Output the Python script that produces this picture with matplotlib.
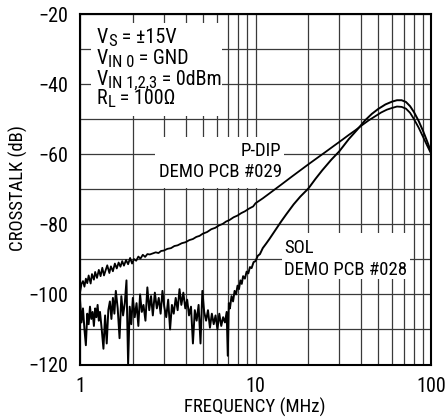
import numpy as np
import matplotlib
matplotlib.use('Agg')
import matplotlib.pyplot as plt
from matplotlib.patches import Rectangle
from matplotlib.ticker import LogLocator, NullFormatter

plt.rcParams['font.family'] = ['Roboto Condensed', 'Liberation Sans', 'DejaVu Sans']
plt.rcParams['font.size'] = 13.5

# P-DIP, demo pcb #029  (freq MHz, crosstalk dB)
pdip_low = [(1.00, -99.5), (1.02, -97.0), (1.04, -96.2), (1.06, -97.8), (1.08, -95.5),
            (1.10, -96.8), (1.12, -94.6), (1.15, -96.9), (1.17, -94.2), (1.20, -95.8),
            (1.22, -93.6), (1.25, -95.3), (1.28, -93.0), (1.31, -94.8), (1.34, -92.4),
            (1.37, -94.6), (1.40, -93.1), (1.43, -91.7), (1.47, -93.9), (1.50, -92.0),
            (1.54, -93.4), (1.58, -91.2), (1.62, -92.6), (1.66, -90.9), (1.70, -92.1),
            (1.74, -90.5), (1.78, -91.8), (1.83, -90.2), (1.88, -91.4), (1.93, -89.6),
            (1.98, -91.2), (2.03, -89.9), (2.09, -90.4), (2.15, -89.2), (2.21, -89.8),
            (2.28, -88.7), (2.35, -89.3), (2.42, -88.5), (2.50, -88.6)]
pdip_mid = [(2.6, -88.3), (2.7, -88.0), (2.8, -88.2), (2.9, -87.6), (3.0, -87.5),
            (3.15, -87.0), (3.3, -86.8), (3.45, -86.2), (3.6, -86.0), (3.8, -85.4),
            (4.0, -85.1), (4.2, -84.5), (4.4, -84.2), (4.6, -83.6), (4.8, -83.3),
            (5.0, -82.7), (5.3, -82.2), (5.6, -81.4), (5.9, -81.0), (6.2, -80.3),
            (6.5, -79.9), (6.8, -79.2), (7.1, -78.8), (7.5, -78.0), (7.9, -77.5),
            (8.3, -76.8), (8.7, -76.3), (9.2, -75.5), (9.7, -74.9)]
pdip_high = [(10, -74.0), (11, -72.6), (12, -71.2), (14, -68.7), (16, -66.5),
             (18, -64.6), (20, -62.9), (22, -61.4), (25, -59.4), (28, -57.6),
             (31, -56.0), (34, -54.5), (37, -53.2), (40, -51.9), (44, -50.4),
             (48, -49.2), (52, -48.1), (56, -47.3), (60, -46.8), (64, -46.4),
             (68, -46.5), (72, -47.0), (76, -48.2), (80, -50.0), (85, -52.4),
             (90, -55.0), (95, -57.5), (100, -59.8)]

# SOL, demo pcb #028
sol_noise = [(1.00, -101.5), (1.02, -108.0), (1.04, -104.0), (1.06, -110.0), (1.08, -114.5),
             (1.10, -105.5), (1.12, -108.5), (1.14, -103.5), (1.16, -107.0), (1.18, -105.0),
             (1.20, -109.0), (1.22, -104.0), (1.24, -106.5), (1.26, -103.0), (1.28, -107.5),
             (1.30, -105.0), (1.33, -110.0), (1.36, -115.5), (1.39, -106.0), (1.42, -114.0),
             (1.45, -104.5), (1.48, -102.0), (1.51, -107.0), (1.54, -101.0), (1.57, -105.5),
             (1.60, -99.0), (1.64, -104.0), (1.68, -112.5), (1.72, -100.5), (1.76, -106.0),
             (1.80, -102.5), (1.84, -96.0), (1.88, -120.0), (1.92, -103.5), (1.96, -108.5),
             (2.00, -101.0), (2.05, -106.5), (2.10, -102.5), (2.15, -109.0), (2.20, -100.0),
             (2.25, -105.0), (2.30, -103.0), (2.36, -107.5), (2.42, -98.0), (2.48, -104.5),
             (2.54, -100.5), (2.60, -106.0), (2.67, -99.5), (2.74, -104.0), (2.81, -101.0),
             (2.88, -105.5), (2.95, -99.0), (3.02, -103.5), (3.10, -106.5), (3.18, -101.5),
             (3.26, -110.0), (3.34, -103.0), (3.42, -105.5), (3.51, -101.0), (3.60, -104.5),
             (3.69, -98.5), (3.78, -103.0), (3.88, -99.5), (3.98, -104.0), (4.08, -101.5),
             (4.18, -106.0), (4.29, -103.5), (4.40, -114.0), (4.51, -104.5), (4.62, -107.5),
             (4.74, -103.0), (4.86, -114.0), (4.98, -99.0), (5.10, -105.0), (5.23, -107.5),
             (5.36, -104.5), (5.50, -109.5), (5.64, -105.5), (5.78, -108.5), (5.92, -106.0),
             (6.07, -110.0), (6.22, -105.5), (6.38, -109.0), (6.54, -106.5), (6.70, -108.0),
             (6.85, -105.0), (6.95, -117.5), (7.05, -102.5), (7.15, -104.0)]
sol_rise = [(7.3, -100.5), (7.45, -102.0), (7.6, -99.0), (7.75, -100.0), (7.9, -97.5),
            (8.05, -98.5), (8.2, -96.0), (8.35, -97.0), (8.5, -94.8), (8.7, -95.5),
            (8.9, -93.5), (9.1, -94.0), (9.3, -92.2), (9.5, -92.5), (9.75, -90.8),
            (10.0, -90.5), (10.3, -89.0), (10.6, -88.5), (11.0, -86.8), (11.5, -85.5),
            (12.0, -84.2), (13.0, -81.6), (14.0, -79.2), (15.0, -77.1), (16.5, -74.3),
            (18.0, -72.1), (20.0, -69.8), (22.0, -67.0), (24.0, -64.6), (27.0, -61.6),
            (30.0, -59.2), (34.0, -55.7), (38.0, -53.0), (42.0, -50.4), (46.0, -48.5),
            (50.0, -47.1), (55.0, -45.8), (60.0, -45.0), (64.0, -44.6), (68.0, -44.6),
            (72.0, -45.1), (76.0, -46.3), (80.0, -48.0), (85.0, -50.5), (90.0, -53.3),
            (95.0, -56.3), (100.0, -59.3)]

# test conditions: (main, subscript, rest)
conditions = [('V', 'S', ' = ±15V'),
              ('V', 'IN 0', ' = GND'),
              ('V', 'IN 1,2,3', ' = 0dBm'),
              ('R', 'L', ' = 100Ω')]

pdip_f, pdip_db = np.array(pdip_low + pdip_mid + pdip_high).T
sol_f, sol_db = np.array(sol_noise + sol_rise).T

fig = plt.figure(figsize=(4.47, 4.19), dpi=100)
ax = fig.add_axes([80/447, 1 - 364.5/419, 351/447, 350.5/419])
ax.set_xscale('log')
ax.set_xlim(1, 100)
ax.set_ylim(-120, -20)
ax.set_xticks([1, 10, 100])
ax.set_xticklabels(['1', '10', '100'])
ax.xaxis.set_minor_locator(LogLocator(subs=np.arange(2, 10)))
ax.xaxis.set_minor_formatter(NullFormatter())
ax.set_yticks(np.arange(-120, -19, 20))
ax.set_yticks(np.arange(-110, -20, 20), minor=True)
ax.set_axisbelow(True)
ax.grid(True, which='both', color='#3a3a3a', lw=0.9)
ax.tick_params(which='both', length=0, labelsize=14.5)
ax.tick_params(axis='y', pad=8.4)
ax.tick_params(axis='x', pad=9)
for s in ax.spines.values():
    s.set_linewidth(1.5)

ax.plot(pdip_f, pdip_db, color='black', lw=1.3, zorder=4)
ax.plot(sol_f, sol_db, color='black', lw=1.4, zorder=4)

# white boxes behind the labels, hiding the grid
ax.add_patch(Rectangle((1.15, -49.2), 6.44 - 1.15, 26.6, facecolor='white', edgecolor='none', zorder=2))
ax.add_patch(Rectangle((2.67, -69.7), 14.5 - 2.67, 14.6, facecolor='white', edgecolor='none', zorder=2))
ax.add_patch(Rectangle((14.1, -95.7), 75.5 - 14.1, 13.1, facecolor='white', edgecolor='none', zorder=2))

for (main, sub, rest), yb in zip(conditions, [-28.4, -34.3, -40.3, -45.8]):
    t1 = ax.text(1.24, yb, main, va='baseline', ha='left', fontsize=14.5, zorder=5)
    t2 = ax.annotate(sub, xy=(1, 0), xycoords=t1, xytext=(0.2, -1.3), textcoords='offset points',
                     va='bottom', ha='left', fontsize=12, zorder=5)
    ax.annotate(rest, xy=(1, 0), xycoords=(t2, t1), va='bottom', ha='left', fontsize=14.5, zorder=5)

ax.text(14.1, -60.6, 'P-DIP', ha='right', va='baseline', zorder=5)
ax.text(14.1, -66.6, 'DEMO PCB #029', ha='right', va='baseline', zorder=5)
ax.text(14.5, -88.1, 'SOL', ha='left', va='baseline', zorder=5)
ax.text(14.5, -94.4, 'DEMO PCB #028', ha='left', va='baseline', zorder=5)

fig.text(255/447, 1 - 407/419, 'FREQUENCY (MHz)', ha='center', va='center')
fig.text(18.5/447, 1 - 188/419, 'CROSSTALK (dB)', ha='center', va='center', rotation=90)

fig.savefig('out.png', dpi=100)
